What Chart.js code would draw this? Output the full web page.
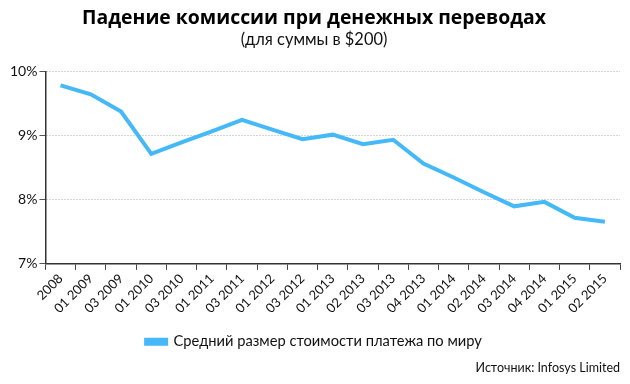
<!DOCTYPE html>
<html>
<head>
<meta charset="utf-8">
<script src="https://cdn.jsdelivr.net/npm/chart.js@4.4.1/dist/chart.umd.min.js"></script>
<style>
  html, body { margin: 0; padding: 0; background: #fff; }
  #wrap { width: 630px; height: 384px; }
</style>
</head>
<body>
<div id="wrap"><canvas id="canvas"></canvas></div>
<script>
const periods = ['2008', '01 2009', '03 2009', '01 2010', '03 2010', '01 2011', '03 2011', '01 2012', '03 2012',
    '01 2013', '02 2013', '03 2013', '04 2013', '01 2014', '02 2014', '03 2014', '04 2014', '01 2015', '02 2015'];
const avgCost = [9.79, 9.65, 9.38, 8.72, 8.90, 9.07, 9.25, 9.10, 8.95,
    9.02, 8.87, 8.94, 8.57, 8.35, 8.12, 7.90, 7.97, 7.72, 7.66];
const yTicks = [7, 8, 9, 10];

// подпись источника в правом нижнем углу
const sourceNote = {
    id: 'sourceNote',
    afterDraw(chart) {
        const ctx = chart.ctx;
        ctx.save();
        ctx.font = '12.5px Lato';
        ctx.fillStyle = '#111';
        ctx.textAlign = 'right';
        ctx.textBaseline = 'alphabetic';
        ctx.fillText('Источник: Infosys Limited', 620, 372);
        ctx.restore();
    }
};

const canvasCTX = document.getElementById('canvas').getContext('2d');

const grafico = new Chart(canvasCTX, {
    type: 'line',
    data: {
        labels: periods,
        datasets: [{
            label: 'Средний размер стоимости платежа по миру',
            data: avgCost,
            borderColor: '#45b9f7',
            backgroundColor: '#45b9f7',
            borderWidth: 4,
            pointRadius: 0,
            tension: 0
        }]
    },
    options: {
        responsive: true,
        maintainAspectRatio: false,
        animation: false,
        plugins: {
            title: {
                display: true,
                text: 'Падение комиссии при денежных переводах',
                color: '#000',
                font: { family: 'Open Sans', size: 19.4, weight: 'bold' },
                padding: { top: 7, bottom: 0 }
            },
            subtitle: {
                display: true,
                text: '(для суммы в $200)',
                color: '#111',
                font: { family: 'Lato', size: 16.4 },
                padding: { top: 0, bottom: 22 }
            },
            legend: {
                display: true,
                position: 'bottom',
                labels: {
                    boxWidth: 20,
                    boxHeight: 4,
                    color: '#111',
                    font: { family: 'Lato', size: 14.7 },
                    padding: 17
                }
            },
            tooltip: { enabled: false }
        },
        layout: {
            padding: { top: 0, bottom: 25, left: 8, right: 10 }
        },
        scales: {
            x: {
                offset: true,
                grid: {
                    offset: true,
                    drawOnChartArea: false,
                    drawTicks: true,
                    tickLength: 6,
                    color: '#444'
                },
                border: { color: '#333', width: 1.5 },
                ticks: {
                    color: '#111',
                    font: { family: 'Lato', size: 13 },
                    maxRotation: 45,
                    minRotation: 45,
                    autoSkip: false,
                    padding: 1
                }
            },
            y: {
                min: 7,
                max: 10,
                afterBuildTicks(axis) {
                    axis.ticks = yTicks.map(v => ({ value: v }));
                },
                grid: {
                    color: '#aaa',
                    tickLength: 6,
                    tickColor: '#555'
                },
                border: { color: '#333', width: 1.5, dash: [1, 2] },
                ticks: {
                    color: '#111',
                    font: { family: 'Lato', size: 14 },
                    padding: 2,
                    callback: v => v + '%'
                }
            }
        }
    },
    plugins: [sourceNote]
});
</script>
</body>
</html>
